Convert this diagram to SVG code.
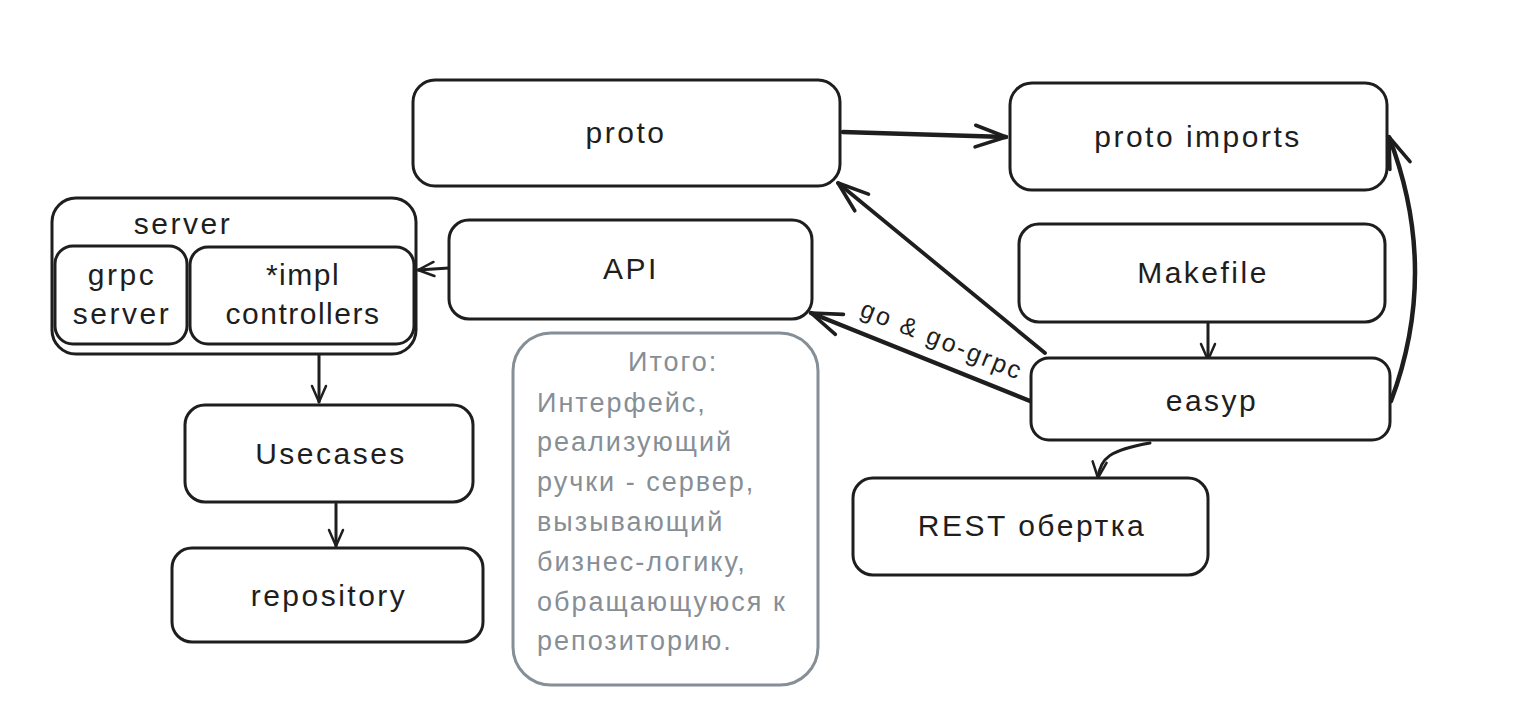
<svg xmlns="http://www.w3.org/2000/svg" width="1516" height="722" viewBox="0 0 1516 722">
<defs>
<style>
.box{fill:#ffffff;stroke:#1e1e1e;stroke-width:3}
.note{fill:#ffffff;stroke:#868e96;stroke-width:3}
.lbl{font-family:"Liberation Sans","Noto Sans",sans-serif;font-size:30px;fill:#1e1e1e;text-anchor:middle;letter-spacing:2.5px}
.ntxt{font-family:"Liberation Sans","Noto Sans",sans-serif;font-size:27px;fill:#868e96;letter-spacing:2px}
.edge{fill:none;stroke:#1e1e1e;stroke-width:3;stroke-linecap:round}
.edgeb{fill:none;stroke:#1e1e1e;stroke-width:4.5;stroke-linecap:round}
</style>
<marker id="ah" viewBox="0 0 20 20" refX="18" refY="10" markerWidth="20" markerHeight="20" markerUnits="userSpaceOnUse" orient="auto">
<path d="M2,3 L18,10 L2,17" fill="none" stroke="#1e1e1e" stroke-width="2.5" stroke-linecap="round" stroke-linejoin="round"/>
</marker>
<marker id="ahb" viewBox="0 0 40 40" refX="37" refY="20" markerWidth="36" markerHeight="36" markerUnits="userSpaceOnUse" orient="auto">
<path d="M3,8 L37,20 L3,32" fill="none" stroke="#1e1e1e" stroke-width="4" stroke-linecap="round" stroke-linejoin="round"/>
</marker>
</defs>

<g id="connectors">
<path class="edgeb" d="M843,132 L1006,137" marker-end="url(#ahb)"/>
<path class="edge" d="M449,268 L418,270" marker-end="url(#ah)"/>
<path class="edge" d="M319,346 L319,402" marker-end="url(#ah)"/>
<path class="edge" d="M336,504 L336,546" marker-end="url(#ah)"/>
<path class="edge" d="M1208,323 L1208,360" marker-end="url(#ah)"/>
<path class="edge" style="stroke-width:3.8" d="M1045,353 L838,183" marker-end="url(#ahb)"/>
<path class="edgeb" d="M1035,403 L811,313" marker-end="url(#ahb)"/>
<path class="edgeb" d="M1391,401 Q1440,270 1389,137" marker-end="url(#ahb)"/>
<path class="edge" d="M1150,443 C1110,450 1100,458 1098,478" marker-end="url(#ah)"/>
<text class="lbl" style="font-size:25px" transform="translate(939,348) rotate(22)" text-anchor="middle">go &amp; go-grpc</text>
</g>

<g id="proto">
<rect class="box" x="413" y="80" width="427" height="106" rx="22"/>
<text class="lbl" x="626" y="143">proto</text>
</g>
<g id="proto-imports">
<rect class="box" x="1010" y="83" width="377" height="107" rx="22"/>
<text class="lbl" x="1198" y="147">proto imports</text>
</g>
<g id="server">
<rect class="box" x="52" y="198" width="364" height="156" rx="24"/>
<text class="lbl" x="183" y="234">server</text>
</g>
<g id="grpc-server">
<rect class="box" x="55" y="246" width="132" height="98" rx="18"/>
<text class="lbl" x="122" y="285">grpc</text>
<text class="lbl" x="122" y="324">server</text>
</g>
<g id="impl-controllers">
<rect class="box" x="190" y="247" width="224" height="97" rx="18"/>
<text class="lbl" style="letter-spacing:1.5px" x="303" y="285">*impl</text>
<text class="lbl" style="letter-spacing:1.5px" x="303" y="324">controllers</text>
</g>
<g id="api">
<rect class="box" x="449" y="220" width="363" height="99" rx="20"/>
<text class="lbl" x="631" y="279">API</text>
</g>
<g id="makefile">
<rect class="box" x="1019" y="224" width="366" height="98" rx="20"/>
<text class="lbl" x="1203" y="283">Makefile</text>
</g>
<g id="easyp">
<rect class="box" x="1031" y="358" width="359" height="82" rx="18"/>
<text class="lbl" x="1212" y="411">easyp</text>
</g>
<g id="usecases">
<rect class="box" x="185" y="405" width="288" height="97" rx="20"/>
<text class="lbl" x="331" y="464">Usecases</text>
</g>
<g id="repository">
<rect class="box" x="172" y="548" width="311" height="94" rx="20"/>
<text class="lbl" x="329" y="606">repository</text>
</g>
<g id="rest">
<rect class="box" x="853" y="478" width="355" height="97" rx="20"/>
<text class="lbl" x="1032" y="536">REST обертка</text>
</g>
<g id="note">
<rect class="note" x="513" y="333" width="305" height="352" rx="38"/>
<text class="ntxt" x="628" y="371">Итого:</text>
<text class="ntxt" x="537" y="412">Интерфейс,</text>
<text class="ntxt" x="537" y="451">реализующий</text>
<text class="ntxt" x="537" y="491">ручки - сервер,</text>
<text class="ntxt" x="537" y="531">вызывающий</text>
<text class="ntxt" x="537" y="571">бизнес-логику,</text>
<text class="ntxt" x="537" y="611">обращающуюся к</text>
<text class="ntxt" x="537" y="650">репозиторию.</text>
</g>
</svg>
